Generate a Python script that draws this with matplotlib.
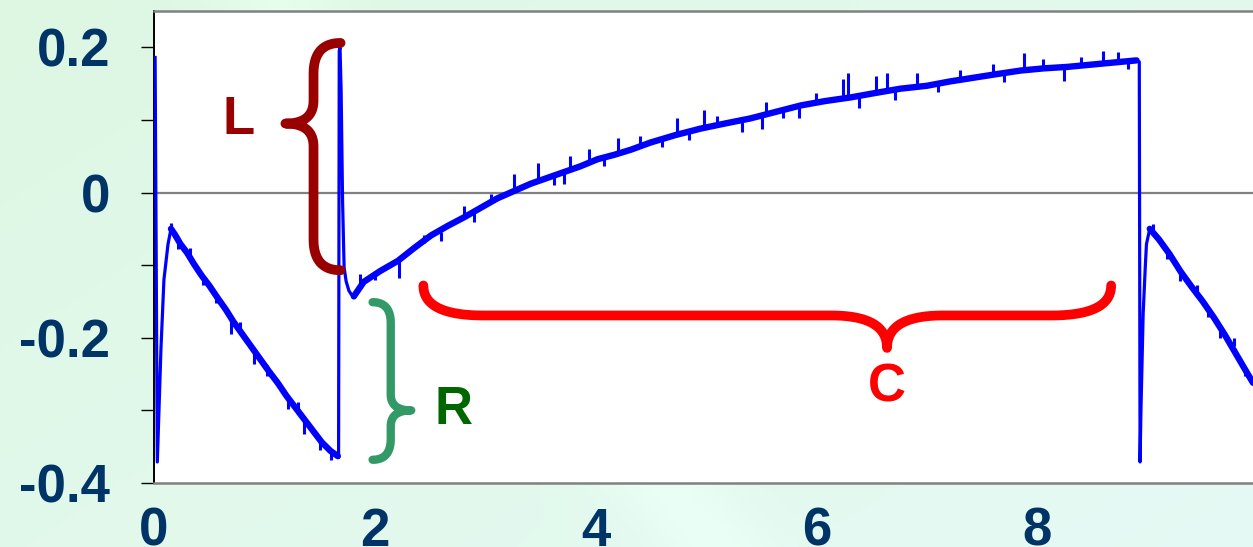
import numpy as np
import matplotlib
matplotlib.use("Agg")
import matplotlib.pyplot as plt
from matplotlib.ticker import MultipleLocator

plt.rcParams['font.family'] = ['Liberation Sans', 'DejaVu Sans']

# ---- trace (time, signal) ----
start_x = [0.010, 0.030, 0.063, 0.090, 0.127, 0.154]
start_y = [0.186, -0.371, -0.215, -0.120, -0.071, -0.050]

decay1_x = [0.154, 0.19, 0.24, 0.30, 0.36, 0.43, 0.50, 0.58, 0.65, 0.72, 0.80,
            0.88, 0.96, 1.04, 1.12, 1.20, 1.28, 1.36, 1.44, 1.52, 1.60, 1.665]
decay1_y = [-0.050, -0.058, -0.071, -0.083, -0.098, -0.114, -0.128, -0.146, -0.161,
            -0.178, -0.195, -0.212, -0.229, -0.246, -0.262, -0.280, -0.296, -0.312,
            -0.328, -0.344, -0.356, -0.363]

jump_x = [1.665, 1.672, 1.678, 1.685, 1.695, 1.708, 1.722, 1.740, 1.765, 1.790, 1.810]
jump_y = [-0.363, -0.365, 0.195, 0.200, 0.140, -0.011, -0.103, -0.122, -0.135, -0.141, -0.143]

rise_x = [1.81, 1.90, 2.05, 2.21, 2.36, 2.51, 2.66, 2.81, 2.96, 3.11, 3.26, 3.41, 3.56,
          3.71, 3.86, 4.02, 4.17, 4.32, 4.50, 4.72, 4.95, 5.17, 5.40, 5.63, 5.86, 6.08,
          6.31, 6.53, 6.76, 7.00, 7.21, 7.42, 7.63, 7.85, 8.06, 8.27, 8.48, 8.69, 8.90]
rise_y = [-0.143, -0.123, -0.108, -0.094, -0.076, -0.059, -0.046, -0.034, -0.021, -0.008,
          0.002, 0.012, 0.020, 0.028, 0.036, 0.046, 0.052, 0.059, 0.069, 0.079, 0.088,
          0.095, 0.102, 0.111, 0.120, 0.126, 0.131, 0.137, 0.143, 0.147, 0.153, 0.158,
          0.163, 0.168, 0.171, 0.173, 0.176, 0.179, 0.182]

drop_x = [8.90, 8.925, 8.932, 8.940, 8.960, 8.980, 8.990, 9.020]
drop_y = [0.182, 0.180, -0.371, -0.300, -0.167, -0.100, -0.071, -0.050]

decay2_x = [9.02, 9.10, 9.20, 9.30, 9.40, 9.50, 9.60, 9.70, 9.80, 9.90, 9.955]
decay2_y = [-0.050, -0.064, -0.085, -0.109, -0.130, -0.150, -0.172, -0.196, -0.222,
            -0.248, -0.262]

# noise spikes: position, trace level, spike tip
spike_x = [0.15, 0.22, 0.33, 0.44, 0.56, 0.70, 0.78, 0.905, 1.02, 1.21, 1.30, 1.36,
           1.50, 1.60,
           1.87, 2.00, 2.22, 2.45, 2.60, 2.81, 2.90, 3.05, 3.26, 3.48, 3.62, 3.71,
           3.77, 3.94, 4.08, 4.20, 4.40, 4.60, 4.74, 4.85, 4.98, 5.10, 5.33, 5.51,
           5.54, 5.70, 5.84, 6.00, 6.24, 6.29, 6.39, 6.54, 6.64, 6.71, 6.91, 7.10,
           7.30, 7.60, 7.70, 7.88, 8.05, 8.24, 8.40, 8.60, 8.73, 8.82,
           9.05, 9.18, 9.29, 9.45, 9.55, 9.66, 9.78, 9.88]
spike_lo = [-0.050, -0.066, -0.088, -0.116, -0.140, -0.176, -0.190, -0.214, -0.238,
            -0.282, -0.300, -0.312, -0.340, -0.356,
            -0.128, -0.108, -0.094, -0.070, -0.055, -0.034, -0.027, -0.014, 0.002,
            0.016, 0.024, 0.028, 0.030, 0.040, 0.049, 0.053, 0.065, 0.075, 0.080,
            0.084, 0.089, 0.092, 0.100, 0.105, 0.106, 0.114, 0.119, 0.124, 0.129,
            0.130, 0.133, 0.137, 0.140, 0.141, 0.146, 0.150, 0.156, 0.162, 0.164,
            0.168, 0.171, 0.172, 0.175, 0.178, 0.180, 0.181,
            -0.056, -0.080, -0.110, -0.141, -0.160, -0.186, -0.212, -0.240]
spike_hi = [-0.042, -0.078, -0.076, -0.128, -0.152, -0.195, -0.178, -0.236, -0.252,
            -0.298, -0.288, -0.332, -0.354, -0.368,
            -0.112, -0.120, -0.118, -0.058, -0.067, -0.019, -0.040, -0.002, 0.026,
            0.040, 0.010, 0.012, 0.050, 0.060, 0.036, 0.075, 0.078, 0.063, 0.103,
            0.072, 0.114, 0.105, 0.084, 0.088, 0.125, 0.102, 0.102, 0.137, 0.157,
            0.164, 0.117, 0.161, 0.165, 0.128, 0.165, 0.138, 0.169, 0.177, 0.152,
            0.192, 0.184, 0.154, 0.187, 0.195, 0.193, 0.170,
            -0.043, -0.092, -0.122, -0.128, -0.172, -0.200, -0.200, -0.252]

y_ticks = [-0.4, -0.2, 0, 0.2]
y_labels = ['-0.4', '-0.2', '0', '0.2']
x_ticks = [0, 2, 4, 6, 8]
x_labels = ['0', '2', '4', '6', '8']

TICK_COLOR = '#003366'
W, H = 1253, 547


def quad(p0, c, p1, n=25):
    t = np.linspace(0, 1, n)[:, None]
    return (1 - t) ** 2 * p0 + 2 * (1 - t) * t * c + t ** 2 * p1


def draw_brace(ax, end1, end2, tip, color, lw, frac=0.5, r_end=30, r_tip=25):
    """Curly brace between end1 and end2 pointing at tip (data coords)."""
    to_px = ax.transData.transform
    e1, e2, t = to_px(end1), to_px(end2), to_px(tip)
    u = (e2 - e1) / np.linalg.norm(e2 - e1)
    nv = np.array([-u[1], u[0]])
    if np.dot(t - e1, nv) < 0:
        nv = -nv
    depth = np.dot(t - e1, nv)
    s = depth * frac
    pt = e1 + np.dot(t - e1, u) * u
    pts = np.vstack([
        quad(e1, e1 + s * nv, e1 + s * nv + r_end * u),
        quad(pt + s * nv - r_tip * u, pt + s * nv, t),
        quad(t, pt + s * nv, pt + s * nv + r_tip * u),
        quad(e2 + s * nv - r_end * u, e2 + s * nv, e2),
    ])
    data = ax.transData.inverted().transform(pts)
    ax.plot(data[:, 0], data[:, 1], color=color, lw=lw, solid_capstyle='round',
            solid_joinstyle='round', zorder=4, clip_on=False)


def main():
    fig = plt.figure(figsize=(W / 100, H / 100), dpi=100)

    # soft green background
    bg = fig.add_axes([0, 0, 1, 1], zorder=-5)
    gx = np.linspace(0, 1, 300)
    gy = np.linspace(0, 1, 140)
    X, Y = np.meshgrid(gx, gy)
    c0 = np.array([0.87, 0.97, 0.89])
    c1 = np.array([0.90, 0.98, 0.96])
    mix = np.clip(0.6 * X + 0.4 * Y, 0, 1)[..., None]
    img = c0 * (1 - mix) + c1 * mix
    streak = np.exp(-((X - 0.35 * Y - 0.22) / 0.05) ** 2) * 0.025
    img = np.clip(img + streak[..., None], 0, 1)
    bg.imshow(img, aspect='auto', extent=[0, 1, 0, 1], origin='upper')
    bg.axis('off')

    ax = fig.add_axes([154 / W, (H - 483) / H, (W - 154) / W, (483 - 11) / H])
    ax.set_facecolor('white')
    ax.set_xlim(0, 9.955)
    ax.set_ylim(-0.4, 0.25)

    ax.axhline(0, color='#808080', lw=1.6, zorder=1)

    trace_x = start_x + decay1_x + jump_x + rise_x + drop_x + decay2_x
    trace_y = start_y + decay1_y + jump_y + rise_y + drop_y + decay2_y
    ax.plot(trace_x, trace_y, color='#0000ff', lw=2.3, zorder=3)
    for sx, sy in [(decay1_x, decay1_y), (rise_x, rise_y), (decay2_x, decay2_y)]:
        ax.plot(sx, sy, color='#0000ff', lw=4.6, zorder=3, solid_capstyle='round')
    ax.vlines(spike_x, spike_lo, spike_hi, color='#0000ff', lw=2.2, zorder=3)

    # annotations
    draw_brace(ax, (1.69, 0.206), (1.69, -0.107), (1.19, 0.095), '#990000', 7.0,
               frac=0.49, r_end=31, r_tip=23)
    ax.text(0.77, 0.100, 'L', color='#990000', fontsize=38, fontweight='bold',
            ha='center', va='center')
    draw_brace(ax, (1.98, -0.151), (1.98, -0.368), (2.33, -0.300), '#339966', 6.0,
               frac=0.47, r_end=21, r_tip=16)
    ax.text(2.71, -0.300, 'R', color='#006600', fontsize=38, fontweight='bold',
            ha='center', va='center')
    draw_brace(ax, (2.44, -0.128), (8.67, -0.128), (6.64, -0.214), '#ff0000', 7.0,
               frac=0.48, r_end=60, r_tip=56)
    ax.text(6.64, -0.269, 'C', color='#ff0000', fontsize=38, fontweight='bold',
            ha='center', va='center')

    # axes styling
    ax.spines['right'].set_visible(False)
    ax.spines['left'].set_color('black')
    ax.spines['left'].set_linewidth(1.4)
    for side in ['top', 'bottom']:
        ax.spines[side].set_color('#808080')
        ax.spines[side].set_linewidth(1.8)

    ax.set_yticks(y_ticks)
    ax.set_yticklabels(y_labels)
    ax.yaxis.set_minor_locator(MultipleLocator(0.1))
    ax.tick_params(axis='y', which='both', length=9.5, width=1.0, color='black',
                   direction='out', pad=22)
    ax.tick_params(axis='y', which='major', labelsize=38, labelcolor=TICK_COLOR)
    ax.set_xticks(x_ticks)
    ax.set_xticklabels(x_labels)
    ax.tick_params(axis='x', length=0, pad=17, labelsize=38, labelcolor=TICK_COLOR)
    for lab in ax.get_xticklabels() + ax.get_yticklabels():
        lab.set_fontweight('bold')

    fig.savefig('out.png', dpi=100, facecolor=fig.get_facecolor())
    plt.close(fig)


if __name__ == "__main__":
    main()
